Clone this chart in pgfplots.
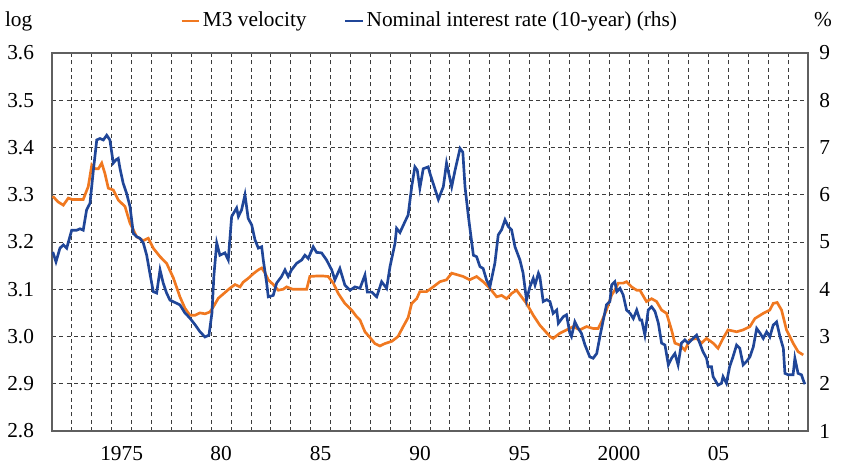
\documentclass[border=0pt]{standalone}
\usepackage{fontspec}
\setmainfont{Liberation Serif}
\usepackage{pgfplots}
\pgfplotsset{compat=1.18}
\definecolor{vorange}{RGB}{240,120,32}
\definecolor{vblue}{RGB}{32,70,152}
\definecolor{framegray}{RGB}{95,95,95}
\definecolor{gridgray}{RGB}{60,60,60}
\begin{document}
\fontsize{16}{19}\selectfont
\begin{tikzpicture}
\path[use as bounding box] (-39pt,-25.5pt) rectangle (591.75pt,323.25pt);
\pgfplotsset{common/.style={width=567pt,height=283.5pt,scale only axis,
  xmin=1972,xmax=2010,
  /pgf/number format/assume math mode=true,
  tick label style={font=\fontsize{16}{19}\selectfont},
  major tick length=0pt, minor tick length=0pt,
  axis line style={framegray,line width=1.1pt}}}
\begin{axis}[common, at={(0,0)}, anchor=south west,
  ymin=2.8,ymax=3.6,
  ytick={2.8,2.9,3.0,3.1,3.2,3.3,3.4,3.5,3.6},
  yticklabel style={/pgf/number format/fixed,/pgf/number format/fixed zerofill,/pgf/number format/precision=1,xshift=-8pt},
  xtick={1975.5,1980.5,1985.5,1990.5,1995.5,2000.5,2005.5},
  xticklabels={1975,80,85,90,95,2000,05},
  xticklabel style={yshift=-6pt},
  minor xtick={1973,1974,...,2009},
  xminorgrids=true, ymajorgrids=true, xmajorgrids=false,
  major grid style={gridgray,line width=0.6pt,dash pattern=on 3pt off 2.5pt},
  minor grid style={gridgray,line width=0.6pt,dash pattern=on 3pt off 2.5pt},
  legend columns=2,
  legend style={at={(0.5,1)},anchor=center,yshift=24pt,draw=none,fill=none,
    font=\fontsize{16}{19}\selectfont,
    /tikz/every even column/.append style={column sep=26pt}},
  legend image code/.code={\draw[#1,line width=2pt] (0pt,0pt) -- (13pt,0pt);},
]
\addplot[vorange,line width=2pt] coordinates {
(1972.04,3.297) (1972.30,3.285) (1972.57,3.278) (1972.82,3.293) (1973.01,3.290) (1973.31,3.29) (1973.57,3.29) (1973.66,3.30) (1973.82,3.317) (1974.00,3.363) (1974.16,3.355) (1974.33,3.355) (1974.50,3.367) (1974.66,3.345) (1974.83,3.314) (1975.08,3.31) (1975.33,3.289) (1975.67,3.275) (1975.92,3.24) (1976.26,3.211) (1976.59,3.203) (1976.84,3.208) (1977.09,3.187) (1977.43,3.169) (1977.76,3.155) (1978.10,3.124) (1978.43,3.084) (1978.68,3.06) (1978.93,3.045) (1979.19,3.045) (1979.44,3.05) (1979.69,3.048) (1979.94,3.052) (1980.14,3.065) (1980.36,3.081) (1980.61,3.09) (1980.94,3.102) (1981.20,3.11) (1981.45,3.105) (1981.61,3.115) (1981.86,3.123) (1982.12,3.133) (1982.37,3.141) (1982.54,3.145) (1982.70,3.135) (1982.87,3.12) (1983.12,3.11) (1983.37,3.098) (1983.62,3.10) (1983.79,3.105) (1984.10,3.10) (1984.46,3.10) (1984.80,3.10) (1984.96,3.127) (1985.30,3.128) (1985.63,3.128) (1985.88,3.127) (1986.14,3.113) (1986.39,3.091) (1986.72,3.07) (1987.06,3.056) (1987.31,3.042) (1987.48,3.035) (1987.73,3.01) (1987.98,2.998) (1988.23,2.985) (1988.48,2.98) (1988.73,2.985) (1989.09,2.99) (1989.39,3.00) (1989.64,3.02) (1989.90,3.04) (1990.08,3.07) (1990.33,3.08) (1990.49,3.095) (1990.83,3.095) (1991.16,3.105) (1991.50,3.116) (1991.83,3.12) (1992.09,3.134) (1992.34,3.131) (1992.67,3.127) (1993.00,3.12) (1993.34,3.127) (1993.67,3.116) (1994.01,3.102) (1994.35,3.084) (1994.60,3.087) (1994.85,3.08) (1995.10,3.091) (1995.35,3.098) (1995.60,3.084) (1995.85,3.07) (1996.19,3.045) (1996.52,3.024) (1997.03,3.0) (1997.19,2.996) (1997.53,3.007) (1997.86,3.014) (1998.20,3.021) (1998.53,3.014) (1998.87,3.021) (1999.20,3.017) (1999.45,3.017) (1999.62,3.031) (1999.87,3.056) (2000.13,3.088) (2000.29,3.098) (2000.46,3.113) (2000.71,3.113) (2000.88,3.116) (2001.13,3.105) (2001.39,3.098) (2001.55,3.098) (2001.88,3.074) (2002.14,3.08) (2002.39,3.074) (2002.64,3.056) (2002.89,3.049) (2003.14,3.014) (2003.31,2.986) (2003.56,2.982) (2003.81,2.971) (2004.06,2.993) (2004.40,2.996) (2004.65,2.986) (2004.90,2.996) (2005.23,2.986) (2005.48,2.975) (2005.73,2.996) (2005.98,3.014) (2006.41,3.01) (2006.74,3.014) (2007.08,3.021) (2007.33,3.038) (2007.75,3.049) (2008.08,3.056) (2008.25,3.07) (2008.45,3.072) (2008.67,3.056) (2008.92,3.014) (2009.25,2.986) (2009.50,2.968) (2009.76,2.961)
};
\addlegendentry{M3 velocity}
\addlegendimage{vblue,line width=2pt}
\addlegendentry{Nominal interest rate (10-year) (rhs)}
\end{axis}
\begin{axis}[common, at={(0,0)}, anchor=south west,
  ymin=1,ymax=9, ytick={1,2,3,4,5,6,7,8,9},
  axis y line*=right, axis x line=none,
  yticklabel style={xshift=3pt},
]
\addplot[vblue,line width=2pt] coordinates {
(1972.04,4.79) (1972.20,4.58) (1972.40,4.87) (1972.57,4.94) (1972.74,4.87) (1972.99,5.25) (1973.24,5.25) (1973.41,5.28) (1973.57,5.25) (1973.74,5.68) (1973.91,5.82) (1974.08,6.52) (1974.25,7.16) (1974.41,7.19) (1974.58,7.16) (1974.75,7.26) (1974.91,7.16) (1975.08,6.67) (1975.22,6.74) (1975.33,6.77) (1975.42,6.55) (1975.58,6.24) (1975.75,6.03) (1975.92,5.75) (1976.09,5.18) (1976.26,5.11) (1976.42,5.08) (1976.59,4.98) (1976.76,4.72) (1976.92,4.34) (1977.09,3.95) (1977.26,3.92) (1977.43,4.41) (1977.59,4.13) (1977.76,3.92) (1977.93,3.77) (1978.18,3.72) (1978.43,3.67) (1978.68,3.5) (1978.93,3.39) (1979.19,3.25) (1979.44,3.1) (1979.69,2.99) (1979.89,3.03) (1980.04,3.5) (1980.14,4.3) (1980.28,4.98) (1980.44,4.72) (1980.69,4.77) (1980.86,4.62) (1981.03,5.54) (1981.28,5.72) (1981.37,5.54) (1981.53,5.68) (1981.70,6.0) (1981.86,5.5) (1982.04,5.36) (1982.20,5.05) (1982.37,4.87) (1982.54,4.9) (1982.62,4.62) (1982.79,4.13) (1982.87,3.84) (1983.12,3.87) (1983.29,4.13) (1983.54,4.27) (1983.71,4.41) (1983.87,4.27) (1984.04,4.41) (1984.30,4.55) (1984.55,4.62) (1984.71,4.72) (1984.88,4.65) (1985.13,4.90) (1985.30,4.78) (1985.55,4.77) (1985.80,4.62) (1986.06,4.41) (1986.22,4.20) (1986.47,4.44) (1986.72,4.09) (1986.98,3.98) (1987.23,4.05) (1987.48,4.02) (1987.73,4.30) (1987.85,3.94) (1988.07,3.94) (1988.32,3.84) (1988.57,4.16) (1988.82,4.02) (1988.99,4.48) (1989.24,4.97) (1989.32,5.29) (1989.49,5.20) (1989.74,5.43) (1989.90,5.57) (1990.08,6.17) (1990.24,6.59) (1990.36,6.52) (1990.49,6.14) (1990.66,6.55) (1990.91,6.59) (1991.00,6.45) (1991.16,6.24) (1991.42,5.90) (1991.67,6.17) (1991.83,6.67) (1992.09,6.17) (1992.26,6.52) (1992.51,6.98) (1992.65,6.9) (1992.76,6.17) (1992.93,5.54) (1993.18,4.72) (1993.34,4.69) (1993.51,4.48) (1993.67,4.44) (1993.84,4.20) (1994.01,4.05) (1994.26,4.55) (1994.43,5.15) (1994.60,5.26) (1994.77,5.47) (1994.93,5.33) (1995.10,5.26) (1995.27,4.90) (1995.52,4.62) (1995.68,4.34) (1995.85,3.77) (1996.02,4.05) (1996.19,4.23) (1996.28,4.09) (1996.45,4.34) (1996.52,4.27) (1996.69,3.74) (1996.87,3.78) (1997.03,3.74) (1997.19,3.49) (1997.37,3.56) (1997.45,3.28) (1997.70,3.42) (1997.86,3.46) (1998.03,3.07) (1998.11,3.0) (1998.28,3.31) (1998.41,3.2) (1998.61,3.07) (1998.79,2.82) (1999.03,2.57) (1999.20,2.54) (1999.38,2.64) (1999.54,3.0) (1999.71,3.35) (1999.87,3.67) (2000.04,3.74) (2000.13,4.09) (2000.29,4.16) (2000.39,3.95) (2000.55,4.02) (2000.71,3.88) (2000.88,3.56) (2001.06,3.49) (2001.22,3.38) (2001.39,3.56) (2001.55,3.35) (2001.64,3.35) (2001.80,3.03) (2001.97,3.56) (2002.14,3.63) (2002.31,3.53) (2002.48,3.28) (2002.64,2.86) (2002.81,2.82) (2002.98,2.40) (2003.14,2.54) (2003.31,2.64) (2003.47,2.40) (2003.64,2.86) (2003.81,2.93) (2003.98,2.86) (2004.15,2.93) (2004.40,3.03) (2004.56,2.86) (2004.72,2.68) (2004.90,2.54) (2004.98,2.36) (2005.15,2.36) (2005.23,2.15) (2005.48,1.97) (2005.65,2.01) (2005.73,2.15) (2005.90,2.01) (2006.06,2.36) (2006.23,2.57) (2006.41,2.82) (2006.57,2.75) (2006.74,2.40) (2006.91,2.47) (2007.08,2.57) (2007.25,2.78) (2007.42,3.17) (2007.59,3.07) (2007.75,2.96) (2007.92,3.10) (2008.08,2.99) (2008.25,3.24) (2008.42,3.31) (2008.59,3.0) (2008.76,2.75) (2008.84,2.22) (2009.00,2.19) (2009.25,2.19) (2009.34,2.54) (2009.50,2.22) (2009.67,2.19) (2009.76,2.08) (2009.84,1.99)
};
\end{axis}
\node[anchor=base] at (-25pt,303pt) {log};
\node[anchor=base] at (578.25pt,303pt) {\%};
\end{tikzpicture}
\end{document}
